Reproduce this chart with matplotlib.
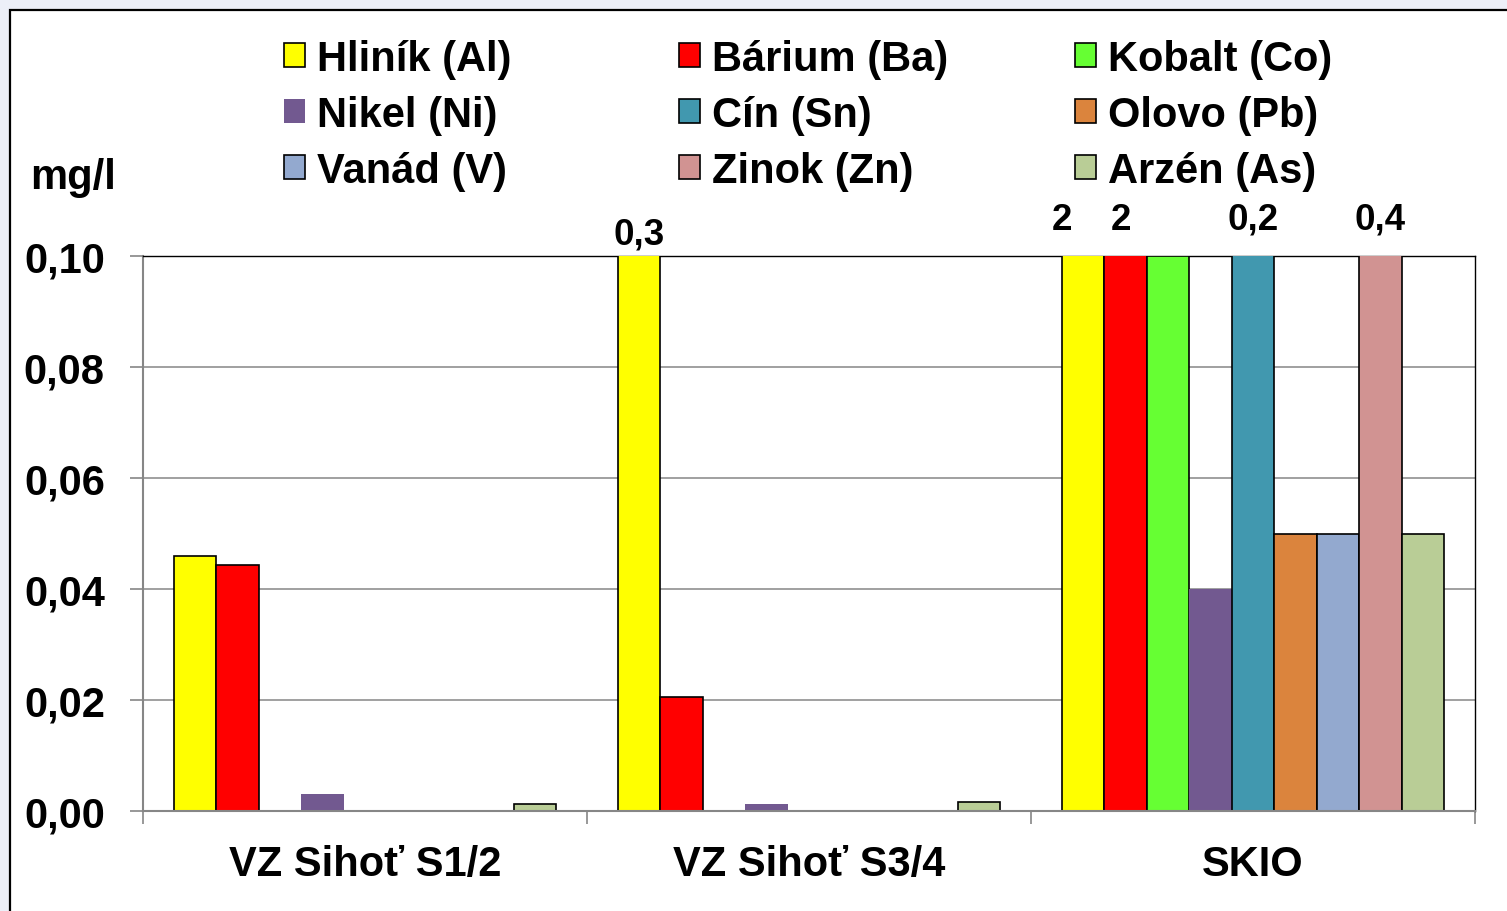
import numpy as np
import matplotlib
matplotlib.use('Agg')
import matplotlib.pyplot as plt
from matplotlib.patches import Rectangle, Patch
from matplotlib.ticker import FuncFormatter, FixedLocator

# ---------------- data ----------------
categories = ['VZ Sihoť S1/2', 'VZ Sihoť S3/4', 'SKIO']
series_names = ['Hliník (Al)', 'Bárium (Ba)', 'Kobalt (Co)', 'Nikel (Ni)', 'Cín (Sn)',
                'Olovo (Pb)', 'Vanád (V)', 'Zinok (Zn)', 'Arzén (As)']
hlinik = [0.046, 0.3, 2]
barium = [0.0443, 0.0205, 2]
kobalt = [0.0, 0.0, 0.1]
nikel = [0.003, 0.0013, 0.04]
cin = [0.0, 0.0, 0.2]
olovo = [0.0, 0.0, 0.05]
vanad = [0.0, 0.0, 0.05]
zinok = [0.0, 0.0, 0.4]
arzen = [0.0012, 0.0016, 0.05]
y_ticks = [0.0, 0.02, 0.04, 0.06, 0.08, 0.10]
y_max = 0.10
y_unit = 'mg/l'

series_values = [hlinik, barium, kobalt, nikel, cin, olovo, vanad, zinok, arzen]

# ---------------- style ----------------
colors = ['#FFFF00', '#FF0000', '#66FF33', '#725990', '#4198AF',
          '#DB843D', '#93A9CF', '#D19392', '#B9CD96']
edges = ['black', 'black', 'black', 'none', 'black', 'black', 'black', 'black', 'black']
label_offset_pt = [26, 16, 26.5]        # vertical offset of over-range labels per category
label_dx_pt = {(0, 2): -15, (1, 2): -3.5}  # horizontal nudges (series, category)
FONT = 'Liberation Sans'
plt.rcParams['font.family'] = [FONT, 'DejaVu Sans']
plt.rcParams['font.weight'] = 'bold'
GRAY = '#868686'

W, H = 1507, 912
fig = plt.figure(figsize=(W / 100, H / 100), dpi=100)
fig.patch.set_facecolor('#ECEFF8')

# white chart box with black border
fig.add_artist(Rectangle((9.5 / W, -0.05), 1.2, (H - 10.5) / H + 0.05,
                         transform=fig.transFigure, facecolor='white',
                         edgecolor='black', lw=1.6, zorder=0))

ax = fig.add_axes([143 / W, 100 / H, 1332 / W, 555 / H])
ax.set_facecolor('white')

n = len(series_values)
bw = 0.0957
x = np.arange(len(categories))
for i, (vals, c, e) in enumerate(zip(series_values, colors, edges)):
    bars = ax.bar(x + (i - (n - 1) / 2) * bw, vals, width=bw, color=c,
                  edgecolor=e, linewidth=1.2, zorder=3, label=series_names[i])
    for j, (b, v) in enumerate(zip(bars, vals)):
        if v == 0:
            b.set_visible(False)
        elif v > y_max:
            lbl = f'{v:g}'.replace('.', ',')
            ax.annotate(lbl, (b.get_x() + b.get_width() / 2, y_max),
                        xytext=(label_dx_pt.get((i, j), 0), label_offset_pt[j]),
                        textcoords='offset points',
                        ha='center', va='center', fontsize=26.5,
                        fontweight='bold', annotation_clip=False)

ax.set_xlim(-0.5, len(categories) - 0.5)
ax.set_ylim(0, y_max)

# y axis
ax.yaxis.set_major_locator(FixedLocator(y_ticks))
ax.yaxis.set_major_formatter(FuncFormatter(lambda v, p: f'{v:.2f}'.replace('.', ',')))
ax.tick_params(axis='y', direction='out', length=9.5, width=1.2, color=GRAY,
               labelsize=30, pad=18)
ax.grid(axis='y', color=GRAY, lw=1.1, zorder=0)
ax.set_axisbelow(True)

# x axis
ax.set_xticks(x)
ax.set_xticklabels(categories, fontsize=30, fontweight='bold')
ax.set_xticks(np.arange(len(categories) + 1) - 0.5, minor=True)
ax.tick_params(axis='x', which='major', length=0, pad=24)
ax.tick_params(axis='x', which='minor', direction='out', length=9.5, width=1.2, color=GRAY)

for lab in ax.get_yticklabels():
    lab.set_fontweight('bold')

for s in ['left', 'bottom']:
    ax.spines[s].set_color(GRAY)
    ax.spines[s].set_linewidth(1.5)
for s in ['top', 'right']:
    ax.spines[s].set_color('black')
    ax.spines[s].set_linewidth(1.0)
ax.spines['bottom'].set_zorder(5)

fig.text(30 / W, 1 - 178 / H, y_unit, fontsize=30, fontweight='bold',
         ha='left', va='center')

# legend: three columns laid out row-wise
col_x = [284, 679, 1075]
for ci in range(3):
    idx = [ci, ci + 3, ci + 6]
    handles = [Patch(facecolor=colors[k], edgecolor=edges[k], lw=1.2) for k in idx]
    labels = [series_names[k] for k in idx]
    fig.legend(handles, labels, loc='upper left',
               bbox_to_anchor=(col_x[ci] / W, 1 - 40 / H),
               bbox_transform=fig.transFigure, frameon=False,
               prop={'family': FONT, 'weight': 'bold', 'size': 30},
               handlelength=0.5, handleheight=0.5, handletextpad=0.3,
               labelspacing=0.38, borderpad=0, borderaxespad=0)

fig.savefig('out.png', dpi=100, facecolor=fig.get_facecolor())
